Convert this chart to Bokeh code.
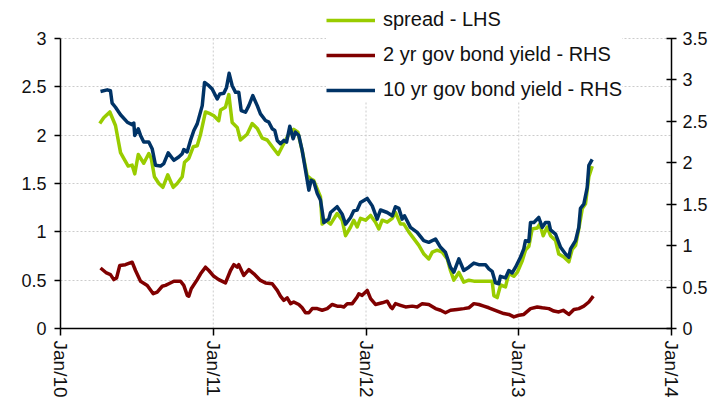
import math
from bokeh.plotting import figure
from bokeh.models import (Range1d, LinearAxis, FixedTicker, NumeralTickFormatter,
                          Legend, LegendItem)
from bokeh.embed import file_html
from bokeh.resources import INLINE

# ---------------- data (decimal years, values) ----------------
spread_t = [2010.257, 2010.283, 2010.323, 2010.360, 2010.393, 2010.414, 2010.443, 2010.469, 2010.486, 2010.509,
            2010.545, 2010.578, 2010.594, 2010.615, 2010.644, 2010.670, 2010.702, 2010.738, 2010.764, 2010.797,
            2010.812, 2010.840, 2010.869, 2010.895, 2010.917, 2010.949, 2010.982, 2011.004, 2011.036, 2011.048,
            2011.080, 2011.102, 2011.124, 2011.157, 2011.178, 2011.222, 2011.255, 2011.288, 2011.320, 2011.353,
            2011.396, 2011.425, 2011.451, 2011.495, 2011.527, 2011.554, 2011.582, 2011.615, 2011.637, 2011.658,
            2011.702, 2011.713, 2011.735, 2011.768, 2011.811, 2011.844, 2011.866, 2011.899, 2011.920, 2011.942,
            2011.964, 2011.997, 2012.030, 2012.062, 2012.084, 2012.106, 2012.139, 2012.172, 2012.193, 2012.226,
            2012.248, 2012.280, 2012.313, 2012.346, 2012.379, 2012.411, 2012.434, 2012.466, 2012.499, 2012.532,
            2012.553, 2012.575, 2012.608, 2012.640, 2012.673, 2012.706, 2012.771, 2012.826, 2012.837, 2012.859,
            2012.881, 2012.913, 2012.935, 2012.968, 2012.990, 2013.023, 2013.044, 2013.066, 2013.088, 2013.121,
            2013.138, 2013.160, 2013.186, 2013.208, 2013.241, 2013.262, 2013.295, 2013.328, 2013.350, 2013.372,
            2013.393, 2013.416, 2013.437, 2013.459, 2013.481]
spread_v = [2.12, 2.18, 2.24, 2.10, 1.82, 1.76, 1.68, 1.69, 1.60, 1.80,
            1.71, 1.81, 1.76, 1.57, 1.50, 1.46, 1.59, 1.46, 1.50, 1.57,
            1.72, 1.76, 1.88, 1.89, 2.01, 2.24, 2.22, 2.20, 2.15, 2.26,
            2.29, 2.42, 2.13, 2.08, 1.95, 2.01, 2.12, 2.07, 1.97, 1.95,
            1.86, 1.80, 1.88, 2.01, 2.06, 2.03, 1.84, 1.58, 1.55, 1.53,
            1.36, 1.08, 1.12, 1.08, 1.19, 1.12, 0.96, 1.05, 1.12, 1.05,
            1.14, 1.12, 1.17, 1.10, 1.03, 1.12, 1.10, 1.14, 1.20, 1.08,
            1.08, 1.00, 0.93, 0.86, 0.77, 0.72, 0.79, 0.81, 0.79, 0.72,
            0.60, 0.50, 0.58, 0.48, 0.50, 0.49, 0.49, 0.49, 0.34, 0.32,
            0.45, 0.43, 0.57, 0.54, 0.58, 0.70, 0.81, 0.85, 1.03, 1.04,
            1.08, 0.96, 1.05, 0.96, 0.91, 0.77, 0.74, 0.69, 0.82, 0.86,
            1.03, 1.24, 1.29, 1.57, 1.68]

y10_t = [2010.262, 2010.306, 2010.327, 2010.338, 2010.360, 2010.393, 2010.437, 2010.469, 2010.480, 2010.486,
         2010.509, 2010.524, 2010.545, 2010.578, 2010.600, 2010.622, 2010.655, 2010.676, 2010.705, 2010.742,
         2010.774, 2010.797, 2010.807, 2010.829, 2010.851, 2010.873, 2010.895, 2010.928, 2010.943, 2010.971,
         2010.993, 2011.026, 2011.043, 2011.069, 2011.087, 2011.104, 2011.124, 2011.146, 2011.167, 2011.183,
         2011.211, 2011.233, 2011.259, 2011.288, 2011.309, 2011.342, 2011.364, 2011.386, 2011.403, 2011.419,
         2011.440, 2011.462, 2011.480, 2011.501, 2011.523, 2011.538, 2011.560, 2011.582, 2011.604, 2011.626,
         2011.641, 2011.658, 2011.681, 2011.702, 2011.713, 2011.724, 2011.756, 2011.768, 2011.811, 2011.844,
         2011.866, 2011.899, 2011.920, 2011.942, 2011.964, 2012.008, 2012.041, 2012.073, 2012.095, 2012.139,
         2012.172, 2012.193, 2012.215, 2012.237, 2012.252, 2012.291, 2012.335, 2012.378, 2012.411, 2012.455,
         2012.488, 2012.520, 2012.553, 2012.575, 2012.608, 2012.640, 2012.673, 2012.706, 2012.738, 2012.782,
         2012.804, 2012.826, 2012.848, 2012.869, 2012.880, 2012.913, 2012.935, 2012.957, 2012.979, 2013.011,
         2013.033, 2013.044, 2013.066, 2013.077, 2013.099, 2013.131, 2013.154, 2013.175, 2013.197, 2013.208,
         2013.241, 2013.274, 2013.306, 2013.328, 2013.339, 2013.372, 2013.393, 2013.404, 2013.426, 2013.448,
         2013.459, 2013.481]
y10_v = [2.86, 2.88, 2.87, 2.72, 2.67, 2.58, 2.49, 2.46, 2.48, 2.33,
         2.41, 2.33, 2.25, 2.25, 2.17, 1.97, 1.96, 1.99, 2.12, 2.03,
         2.07, 2.11, 2.16, 2.13, 2.27, 2.39, 2.47, 2.69, 2.97, 2.93,
         2.89, 2.77, 2.83, 2.84, 2.91, 3.08, 2.93, 2.85, 2.85, 2.63,
         2.61, 2.69, 2.81, 2.69, 2.59, 2.51, 2.49, 2.41, 2.39, 2.27,
         2.23, 2.27, 2.25, 2.44, 2.29, 2.37, 2.33, 2.15, 1.91, 1.67,
         1.79, 1.77, 1.63, 1.55, 1.42, 1.28, 1.32, 1.40, 1.47, 1.38,
         1.26, 1.34, 1.42, 1.43, 1.52, 1.57, 1.48, 1.32, 1.43, 1.40,
         1.36, 1.47, 1.45, 1.32, 1.36, 1.22, 1.16, 1.06, 1.04, 1.08,
         0.98, 0.92, 0.74, 0.68, 0.84, 0.70, 0.74, 0.79, 0.77, 0.77,
         0.72, 0.69, 0.55, 0.54, 0.63, 0.61, 0.70, 0.67, 0.74, 0.86,
         0.96, 1.06, 1.05, 1.28, 1.28, 1.34, 1.22, 1.28, 1.28, 1.19,
         1.14, 0.98, 0.90, 0.86, 0.96, 1.06, 1.22, 1.45, 1.50, 1.70,
         1.97, 2.04]

y2_t = [2010.262, 2010.301, 2010.327, 2010.349, 2010.367, 2010.388, 2010.425, 2010.469, 2010.491, 2010.524,
        2010.568, 2010.607, 2010.633, 2010.666, 2010.687, 2010.709, 2010.742, 2010.786, 2010.807, 2010.830,
        2010.840, 2010.856, 2010.895, 2010.917, 2010.949, 2010.971, 2011.004, 2011.036, 2011.080, 2011.113,
        2011.135, 2011.157, 2011.167, 2011.200, 2011.233, 2011.266, 2011.309, 2011.342, 2011.386, 2011.419,
        2011.440, 2011.462, 2011.484, 2011.506, 2011.527, 2011.560, 2011.582, 2011.604, 2011.626, 2011.648,
        2011.681, 2011.713, 2011.746, 2011.779, 2011.811, 2011.833, 2011.855, 2011.877, 2011.910, 2011.942,
        2011.953, 2011.975, 2012.008, 2012.030, 2012.062, 2012.106, 2012.139, 2012.161, 2012.172, 2012.193,
        2012.226, 2012.259, 2012.303, 2012.335, 2012.368, 2012.411, 2012.455, 2012.488, 2012.520, 2012.553,
        2012.597, 2012.640, 2012.673, 2012.706, 2012.739, 2012.771, 2012.804, 2012.859, 2012.902, 2012.935,
        2012.968, 2013.001, 2013.033, 2013.077, 2013.121, 2013.154, 2013.197, 2013.230, 2013.262, 2013.291,
        2013.328, 2013.361, 2013.393, 2013.426, 2013.459, 2013.488]
y2_v = [0.73, 0.67, 0.65, 0.59, 0.61, 0.76, 0.77, 0.80, 0.70, 0.57,
        0.52, 0.42, 0.44, 0.51, 0.52, 0.54, 0.57, 0.57, 0.52, 0.40,
        0.39, 0.48, 0.59, 0.66, 0.74, 0.70, 0.63, 0.59, 0.55, 0.70,
        0.77, 0.74, 0.77, 0.64, 0.71, 0.66, 0.58, 0.55, 0.54, 0.46,
        0.39, 0.34, 0.37, 0.30, 0.32, 0.29, 0.25, 0.19, 0.19, 0.24,
        0.24, 0.22, 0.24, 0.29, 0.27, 0.27, 0.26, 0.30, 0.30, 0.38,
        0.42, 0.40, 0.46, 0.36, 0.29, 0.31, 0.33, 0.26, 0.24, 0.30,
        0.28, 0.26, 0.27, 0.26, 0.30, 0.29, 0.24, 0.22, 0.19, 0.22,
        0.23, 0.24, 0.25, 0.30, 0.29, 0.27, 0.25, 0.21, 0.18, 0.17,
        0.14, 0.16, 0.17, 0.24, 0.26, 0.25, 0.24, 0.21, 0.20, 0.22,
        0.17, 0.23, 0.24, 0.27, 0.32, 0.39]

x_ticks = [2010, 2011, 2012, 2013, 2014]
x_labels = ["Jan/10", "Jan/11", "Jan/12", "Jan/13", "Jan/14"]
left_ticks = [0, 0.5, 1, 1.5, 2, 2.5, 3]
right_ticks = [0, 0.5, 1, 1.5, 2, 2.5, 3, 3.5]
series_names = ["spread - LHS", "2 yr gov bond yield - RHS", "10 yr gov bond yield - RHS"]

# ---------------- layout / styling ----------------
FONT = "Liberation Sans"
C_SPREAD = "#99cc00"
C_2Y = "#800000"
C_10Y = "#003366"
W, H = 724, 403
BORDER_L, BORDER_R, BORDER_B = 60, 53, 75
AXIS_TOP_GAP = 38                      # pixels between canvas top and the axes' top tick
FRAME_H = H - BORDER_B                 # frame reaches the canvas top so the legend is not clipped
AXES_H = FRAME_H - AXIS_TOP_GAP
left_max, right_max = left_ticks[-1], right_ticks[-1]
left_end = left_max * FRAME_H / AXES_H
right_end = right_max * FRAME_H / AXES_H

p = figure(width=W, height=H, output_backend="svg", toolbar_location=None,
           x_range=Range1d(x_ticks[0], x_ticks[-1]), y_range=Range1d(0, left_end),
           min_border_left=BORDER_L, min_border_right=BORDER_R,
           min_border_top=0, min_border_bottom=BORDER_B)
p.extra_y_ranges = {"rhs": Range1d(0, right_end)}
p.outline_line_color = None
p.background_fill_color = "white"
p.border_fill_color = "white"

# vertical grid lines at the year ticks, limited to the axes' height
p.segment(x0=x_ticks[1:-1], y0=[0] * 3, x1=x_ticks[1:-1], y1=[left_max] * 3,
          line_color="#cccccc", line_dash="2 2", line_width=1, level="underlay")

r2 = p.line(y2_t, y2_v, y_range_name="rhs", line_color=C_2Y, line_width=3.5, line_join="round")
rs = p.line(spread_t, spread_v, line_color=C_SPREAD, line_width=3.5, line_join="round")
r10 = p.line(y10_t, y10_v, y_range_name="rhs", line_color=C_10Y, line_width=3.5, line_join="round")

right_axis = LinearAxis(y_range_name="rhs")
p.add_layout(right_axis, "right")

xa = p.xaxis[0]
xa.ticker = FixedTicker(ticks=x_ticks)
xa.major_label_overrides = dict(zip(x_ticks, x_labels))
xa.major_label_orientation = -math.pi / 2
xa.major_tick_in = 0
xa.major_tick_out = 7
xa.major_label_standoff = 5
xa.major_label_text_font_size = "19px"

ya = p.yaxis[0]
ya.ticker = FixedTicker(ticks=left_ticks)
ya.formatter = NumeralTickFormatter(format="0.[0]")
ya.bounds = (0, left_max)
ya.major_tick_in = 0
ya.major_tick_out = 6
ya.major_label_standoff = 8
ya.major_label_text_font_size = "18px"

right_axis.ticker = FixedTicker(ticks=right_ticks)
right_axis.formatter = NumeralTickFormatter(format="0.[0]")
right_axis.bounds = (0, right_max)
right_axis.major_tick_in = 5
right_axis.major_tick_out = 5
right_axis.major_label_standoff = 6
right_axis.major_label_text_font_size = "18px"

for ax in (xa, ya, right_axis):
    ax.axis_line_color = "black"
    ax.axis_line_width = 1.5
    ax.major_tick_line_color = "black"
    ax.major_tick_line_width = 1.5
    ax.minor_tick_line_color = None
    ax.major_label_text_font = FONT
    ax.major_label_text_color = "#111111"

p.xgrid.visible = False
yg = p.ygrid[0]
yg.grid_line_color = "#cccccc"
yg.grid_line_dash = "2 2"
yg.grid_line_width = 1

legend = Legend(items=[LegendItem(label=series_names[0], renderers=[rs]),
                       LegendItem(label=series_names[1], renderers=[r2]),
                       LegendItem(label=series_names[2], renderers=[r10])],
                location=(266, 227))
legend.border_line_color = None
legend.background_fill_color = "white"
legend.background_fill_alpha = 1.0
legend.padding = 4
legend.margin = 0
legend.spacing = 12
legend.glyph_width = 49
legend.glyph_height = 20
legend.label_height = 20
legend.label_standoff = 8
legend.label_text_font = FONT
legend.label_text_font_size = "20px"
legend.label_text_color = "#111111"
p.add_layout(legend)

open("out.html", "w").write(file_html(p, INLINE))
